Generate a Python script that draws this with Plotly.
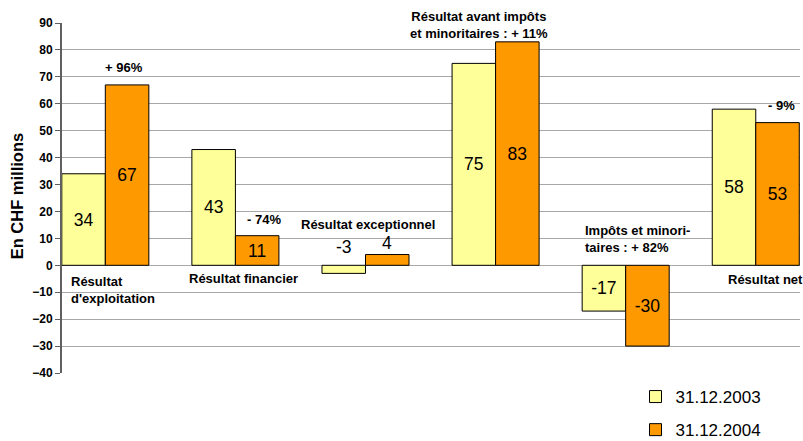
import plotly.graph_objects as go

categories = ["Résultat d'exploitation", "Résultat financier", "Résultat exceptionnel",
              "Résultat avant impôts et minoritaires", "Impôts et minoritaires", "Résultat net"]
values_2003 = [34, 43, -3, 75, -17, 58]
values_2004 = [67, 11, 4, 83, -30, 53]
series_names = ["31.12.2003", "31.12.2004"]
y_ticks = [-40, -30, -20, -10, 0, 10, 20, 30, 40, 50, 60, 70, 80, 90]

FONT = "Arial, Liberation Sans, sans-serif"
W, H = 803, 441
L, T = 62, 23
PW, PH = 738, 350
R, B = W - L - PW, H - T - PH

x_idx = list(range(len(categories)))
# labels for tiny bars are drawn outside (above the zero line)
small = [abs(v) < 8 for v in values_2003]
small4 = [abs(v) < 8 for v in values_2004]

fig = go.Figure()
fig.add_trace(go.Bar(
    x=x_idx, y=values_2003, name=series_names[0], legendgroup="a",
    marker=dict(color="#FFFF99", line=dict(color="#000000", width=1)),
    text=["" if s else str(v) for v, s in zip(values_2003, small)],
    textposition="inside", insidetextanchor="middle", textangle=0,
    textfont=dict(family=FONT, size=17.5, color="#000000"),
    constraintext="none", cliponaxis=False,
))
fig.add_trace(go.Bar(
    x=x_idx, y=values_2004, name=series_names[1], legendgroup="b",
    marker=dict(color="#FF9900", line=dict(color="#000000", width=1)),
    text=["" if s else str(v) for v, s in zip(values_2004, small4)],
    textposition="inside", insidetextanchor="middle", textangle=0,
    textfont=dict(family=FONT, size=17.5, color="#000000"),
    constraintext="none", cliponaxis=False,
))

annotations = []
half = 0.669 / 4
for i, (v, s) in enumerate(zip(values_2003, small)):
    if s:
        annotations.append(dict(x=i - half, y=max(v, 0), xref="x", yref="y", text=str(v),
                                showarrow=False, yshift=18,
                                font=dict(family=FONT, size=17.5, color="#000")))
for i, (v, s) in enumerate(zip(values_2004, small4)):
    if s:
        annotations.append(dict(x=i + half, y=max(v, 0), xref="x", yref="y", text=str(v),
                                showarrow=False, yshift=12,
                                font=dict(family=FONT, size=17.5, color="#000")))

bold = dict(family=FONT, size=13, color="#000000", weight="bold")
labels = [
    ("Résultat<br>d'exploitation", -0.279, -9.2, "left"),
    ("Résultat financier", 0.626, -4.9, "left"),
    ("Résultat exceptionnel", 2.019, 15.2, "center"),
    ("Résultat avant impôts<br>et minoritaires : + 11%", 2.87, 89.1, "center"),
    ("Impôts et minori-<br>taires : + 82%", 3.67, 9.6, "left"),
    ("Résultat net", 4.769, -5.2, "left"),
    ("+ 96%", 0.144, 73.3, "center"),
    ("- 74%", 1.216, 17.0, "center"),
    ("- 9%", 5.199, 59.4, "center"),
]
for txt, x, y, anc in labels:
    annotations.append(dict(x=x, y=y, xref="x", yref="y", text=txt, showarrow=False,
                            xanchor=anc, yanchor="middle", align=anc, font=bold))

annotations.append(dict(x=(16.5 - L) / PW, y=25.8, xref="paper", yref="y",
                        xanchor="center", yanchor="middle",
                        text="En CHF millions", textangle=-90, showarrow=False,
                        font=dict(family=FONT, size=16.5, color="#000", weight="bold")))

fig.update_layout(
    width=W, height=H,
    margin=dict(l=L, r=R, t=T, b=B, pad=0, autoexpand=False),
    paper_bgcolor="white", plot_bgcolor="white",
    barmode="group", bargap=0.331, bargroupgap=0,
    font=dict(family=FONT, color="#000"),
    showlegend=True,
    legend=dict(x=635.5 / W, y=1 - 379 / H, xref="container", yref="container",
                xanchor="left", yanchor="top",
                traceorder="grouped", tracegroupgap=8,
                font=dict(family=FONT, size=17, color="#000"),
                bgcolor="rgba(0,0,0,0)"),
    annotations=annotations,
    xaxis=dict(range=[-0.333, 5.34], showticklabels=False, showgrid=False,
               zeroline=False, showline=False, ticks="", automargin=False),
    yaxis=dict(range=[-40, 90], tickvals=y_ticks, showgrid=True, gridcolor="#a8a8a8",
               gridwidth=1, zeroline=True, zerolinecolor="#a8a8a8", zerolinewidth=1,
               showline=True, linecolor="#606060", linewidth=2, automargin=False,
               ticks="outside", ticklen=5, tickcolor="#606060", tickwidth=1,
               tickfont=dict(family=FONT, size=12, color="#000", weight="bold")),
)

fig.write_html("out.html", config={"displayModeBar": False},
               post_script="document.body.style.margin='0';document.body.style.overflow='hidden';")
